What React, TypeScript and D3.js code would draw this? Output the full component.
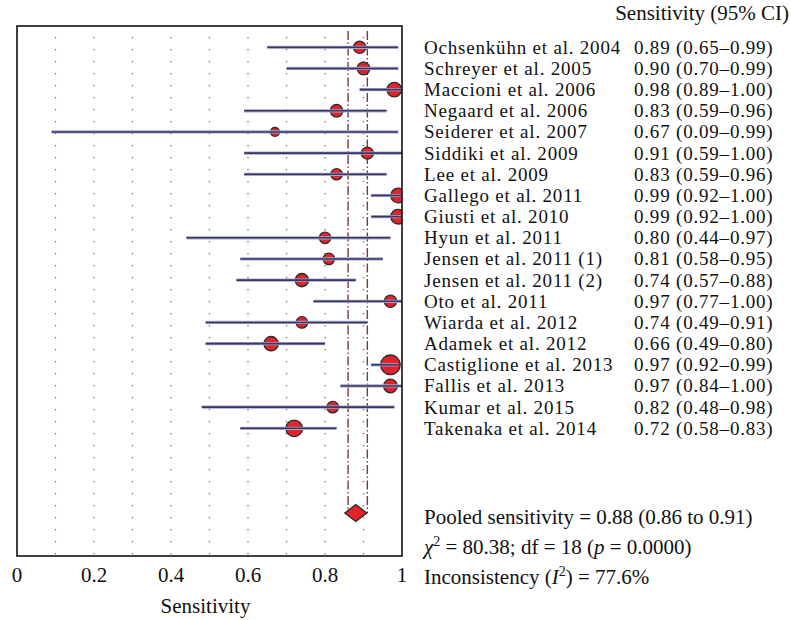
import React from "react";
import * as d3 from "d3";

const studies = [
  "Ochsenkühn et al. 2004",
  "Schreyer et al. 2005",
  "Maccioni et al. 2006",
  "Negaard et al. 2006",
  "Seiderer et al. 2007",
  "Siddiki et al. 2009",
  "Lee et al. 2009",
  "Gallego et al. 2011",
  "Giusti et al. 2010",
  "Hyun et al. 2011",
  "Jensen et al. 2011 (1)",
  "Jensen et al. 2011 (2)",
  "Oto et al. 2011",
  "Wiarda et al. 2012",
  "Adamek et al. 2012",
  "Castiglione et al. 2013",
  "Fallis et al. 2013",
  "Kumar et al. 2015",
  "Takenaka et al. 2014",
];
const sens = [0.89, 0.9, 0.98, 0.83, 0.67, 0.91, 0.83, 0.99, 0.99, 0.8, 0.81, 0.74, 0.97, 0.74, 0.66, 0.97, 0.97, 0.82, 0.72];
const lower = [0.65, 0.7, 0.89, 0.59, 0.09, 0.59, 0.59, 0.92, 0.92, 0.44, 0.58, 0.57, 0.77, 0.49, 0.49, 0.92, 0.84, 0.48, 0.58];
const upper = [0.99, 0.99, 1.0, 0.96, 0.99, 1.0, 0.96, 1.0, 1.0, 0.97, 0.95, 0.88, 1.0, 0.91, 0.8, 0.99, 1.0, 0.98, 0.83];
// relative study weights (marker area)
const weights = [34, 36, 47, 36, 18, 33, 29, 49, 49, 30, 30, 40, 34, 30, 46, 87, 42, 30, 62];
const pooled = { est: 0.88, lo: 0.86, hi: 0.91 };
const xTicks = [0, 0.2, 0.4, 0.6, 0.8, 1];
const gridVals = [0.1, 0.2, 0.3, 0.4, 0.5, 0.6, 0.7, 0.8, 0.9];

const FONT = "'Liberation Serif', 'Times New Roman', serif";
const fmt = d3.format(".2f");

export default function App() {
  const W = 791, H = 620;
  const left = 17, right = 402, top = 26, bottom = 556;
  const x = d3.scaleLinear().domain([0, 1]).range([left, right]);
  const y = d3.scalePoint<string>().domain(studies).range([47.3, 428.3]);
  const r = d3.scaleSqrt().domain([0, 100]).range([0, 10.5]);
  const pooledY = 513;
  const textX = 424;
  const valX = 634;
  const fs = 21;
  const rowFs = 19;

  return (
    <svg width={W} height={H} style={{ position: "absolute", left: 0, top: 0, background: "#fff" }} fontFamily={FONT}>
      <defs>
        <clipPath id="plotclip">
          <rect x={left} y={top} width={right - left} height={bottom - top} />
        </clipPath>
      </defs>
      {/* dotted grid */}
      {gridVals.map((g) => (
        <line key={g} x1={x(g)} x2={x(g)} y1={37} y2={bottom} stroke="#666" strokeWidth={1.3} strokeDasharray="1.3 10.7" />
      ))}
      {/* pooled CI dashed lines */}
      {[pooled.lo, pooled.hi].map((v) => (
        <line key={v} x1={x(v)} x2={x(v)} y1={31} y2={pooledY} stroke="#7a3a3a" strokeWidth={1.4} strokeDasharray="9 2.5 1.5 2.5" />
      ))}
      <g clipPath="url(#plotclip)">
        {studies.map((s, i) => (
          <circle key={s} cx={x(sens[i])} cy={y(s)} r={r(weights[i])} fill="#e3232b" stroke="#2b2b2b" strokeWidth={1.3} />
        ))}
        {studies.map((s, i) => (
          <g key={s}>
            <line x1={x(lower[i])} x2={x(upper[i])} y1={y(s)} y2={y(s)} stroke="#a6a6c4" strokeWidth={3.2} />
            <line x1={x(lower[i])} x2={x(upper[i])} y1={y(s)} y2={y(s)} stroke="#36366a" strokeWidth={1.6} />
          </g>
        ))}
      </g>
      {/* pooled diamond */}
      <line x1={x(pooled.lo)} x2={x(pooled.hi)} y1={pooledY} y2={pooledY} stroke="#7a3a3a" strokeWidth={1.2} />
      <path
        d={`M${x(pooled.est) - 11},${pooledY} L${x(pooled.est)},${pooledY - 8.5} L${x(pooled.est) + 11},${pooledY} L${x(pooled.est)},${pooledY + 8.5} Z`}
        fill="#e3232b"
        stroke="#2b2b2b"
        strokeWidth={1.3}
      />
      {/* frame */}
      <rect x={left} y={top} width={right - left} height={bottom - top} fill="none" stroke="#111" strokeWidth={1.6} />
      {/* x tick labels */}
      {xTicks.map((t) => (
        <text key={t} x={x(t)} y={582} fontSize={fs} textAnchor="middle" fill="#111">
          {t === 0 || t === 1 ? String(t) : d3.format(".1f")(t)}
        </text>
      ))}
      <text x={(left + right) / 2 - 4} y={613} fontSize={fs} textAnchor="middle" fill="#111">Sensitivity</text>
      {/* header */}
      <text x={789} y={20} fontSize={fs} textAnchor="end" fill="#111">Sensitivity (95% CI)</text>
      {/* study labels */}
      {studies.map((s, i) => (
        <g key={s} fontSize={rowFs} letterSpacing={0.8} fill="#111">
          <text x={textX} y={(y(s) as number) + 6.5}>{s}</text>
          <text x={valX} y={(y(s) as number) + 6.5}>
            {`${fmt(sens[i])} (${fmt(lower[i])}–${fmt(upper[i])})`}
          </text>
        </g>
      ))}
      {/* summary stats */}
      <g fontSize={fs} fill="#111">
        <text x={textX} y={524}>{`Pooled sensitivity = ${fmt(pooled.est)} (${fmt(pooled.lo)} to ${fmt(pooled.hi)})`}</text>
        <text x={textX} y={554}>
          <tspan fontStyle="italic">χ</tspan>
          <tspan fontSize={14} dy={-8}>2</tspan>
          <tspan dy={8}>{" = 80.38; df = 18 ("}</tspan>
          <tspan fontStyle="italic">p</tspan>
          <tspan>{" = 0.0000)"}</tspan>
        </text>
        <text x={textX} y={584}>
          <tspan>{"Inconsistency ("}</tspan>
          <tspan fontStyle="italic">I</tspan>
          <tspan fontSize={14} dy={-8}>2</tspan>
          <tspan dy={8}>{") = 77.6%"}</tspan>
        </text>
      </g>
    </svg>
  );
}
